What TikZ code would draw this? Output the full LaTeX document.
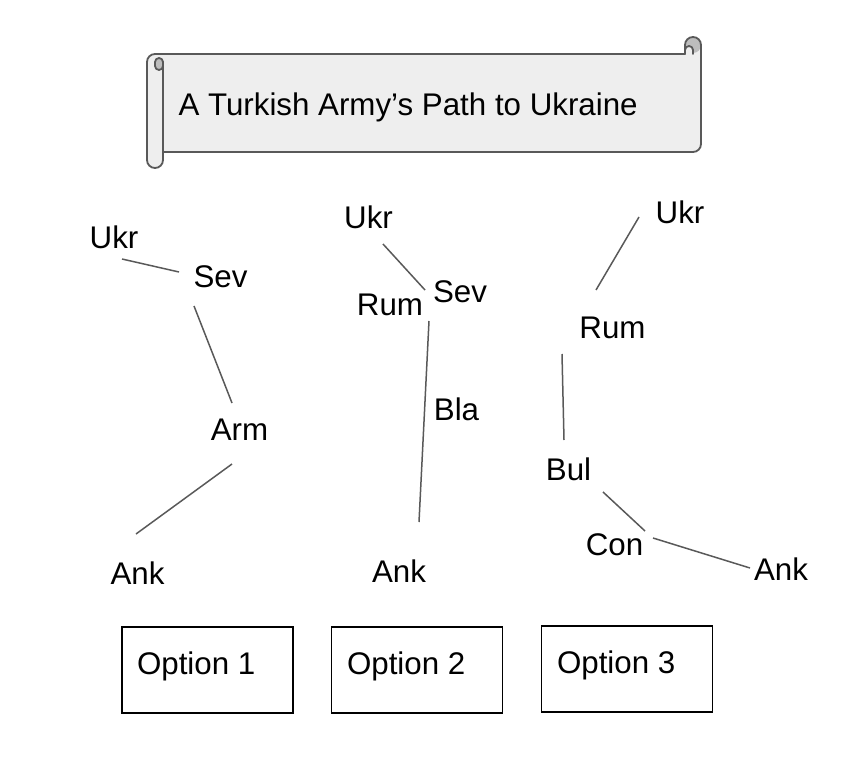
\documentclass[tikz,border=0pt]{standalone}
\usepackage{fontspec}
\setmainfont{Liberation Sans}
\definecolor{scrollfill}{HTML}{EEEEEE}
\definecolor{scrolldark}{HTML}{BDBDBD}
\definecolor{edgegray}{HTML}{595959}
\begin{document}
\begin{tikzpicture}[x=1pt,y=-1pt,
  every node/.style={font=\fontsize{31.3}{37}\selectfont, inner sep=0pt, outer sep=0pt},
  lbl/.style={anchor=base},
  conn/.style={draw=edgegray, line width=1.5pt},
  optbox/.style={draw=black, line width=1.5pt, minimum width=171pt, minimum height=86pt},
  scrollline/.style={draw=edgegray, line width=1.8pt, line join=round, line cap=round}]
\useasboundingbox (0,0) rectangle (862,776);

% ---- scroll banner ----
\fill[scrollfill] (147,62) arc[start angle=180,end angle=270,radius=8] -- (685,54) -- (685,45)
  arc[start angle=180,end angle=360,radius=8] -- (701,144)
  arc[start angle=0,end angle=90,radius=8] -- (163,152) -- (163,160)
  arc[start angle=0,end angle=180,radius=8] -- cycle;
\fill[scrolldark] (693,45) circle[radius=8];
\fill[scrollfill] (693,54) -- (693,50) arc[start angle=0,end angle=-180,radius=4] -- (685,54) -- cycle;
\draw[scrollline] (147,62) arc[start angle=180,end angle=270,radius=8] -- (685,54) -- (685,45)
  arc[start angle=180,end angle=360,radius=8] -- (701,144)
  arc[start angle=0,end angle=90,radius=8] -- (163,152);
\draw[scrollline] (163,62) -- (163,160) arc[start angle=0,end angle=180,radius=8] -- (147,62);
\draw[scrollline, fill=scrolldark] (155,62) arc[start angle=180,end angle=360,radius=4] -- (163,66)
  arc[start angle=0,end angle=180,radius=4] -- cycle;
\draw[scrollline] (693,54) -- (693,50) arc[start angle=0,end angle=-180,radius=4] -- (685,54);
\node[anchor=base west] (title) at (178.5,115) {A Turkish Army’s Path to Ukraine};

% ---- option 1 ----
\node[lbl] (ukrA) at (114,248) {Ukr};
\node[lbl] (sevA) at (220.5,287) {Sev};
\node[lbl] (armA) at (239.5,440) {Arm};
\node[lbl] (ankA) at (137.5,584) {Ank};
\coordinate (a1s) at (122,259); \coordinate (a1e) at (179,272);
\coordinate (a2s) at (194,306); \coordinate (a2e) at (232,403);
\coordinate (a3s) at (232,464); \coordinate (a3e) at (136,534);
\draw[conn] (a1s) -- (a1e);
\draw[conn] (a2s) -- (a2e);
\draw[conn] (a3s) -- (a3e);

% ---- option 2 ----
\node[lbl] (ukrB) at (368.5,228) {Ukr};
\node[lbl] (sevB) at (460,302) {Sev};
\node[lbl] (rumB) at (390,315) {Rum};
\node[lbl] (blaB) at (456.5,420) {Bla};
\node[lbl] (ankB) at (399,582) {Ank};
\coordinate (b1s) at (383,244); \coordinate (b1e) at (425,290);
\coordinate (b2s) at (429,321); \coordinate (b2e) at (419,522);
\draw[conn] (b1s) -- (b1e);
\draw[conn] (b2s) -- (b2e);

% ---- option 3 ----
\node[lbl] (ukrC) at (680,223) {Ukr};
\node[lbl] (rumC) at (612.5,338) {Rum};
\node[lbl] (bulC) at (568.5,480) {Bul};
\node[lbl] (conC) at (614.5,555) {Con};
\node[lbl] (ankC) at (781,580) {Ank};
\coordinate (c1s) at (639,217); \coordinate (c1e) at (596,290);
\coordinate (c2s) at (562,354); \coordinate (c2e) at (564,440);
\coordinate (c3s) at (603,492); \coordinate (c3e) at (645,531);
\coordinate (c4s) at (653,538); \coordinate (c4e) at (750,568);
\draw[conn] (c1s) -- (c1e);
\draw[conn] (c2s) -- (c2e);
\draw[conn] (c3s) -- (c3e);
\draw[conn] (c4s) -- (c4e);

% ---- option boxes ----
\node[optbox] (box1) at (207.5,670) {};
\node[optbox] (box2) at (417,670) {};
\node[optbox] (box3) at (627,669) {};
\node[anchor=base west] (opt1) at (137,674) {Option 1};
\node[anchor=base west] (opt2) at (347,674) {Option 2};
\node[anchor=base west] (opt3) at (557,673) {Option 3};
\end{tikzpicture}
\end{document}
